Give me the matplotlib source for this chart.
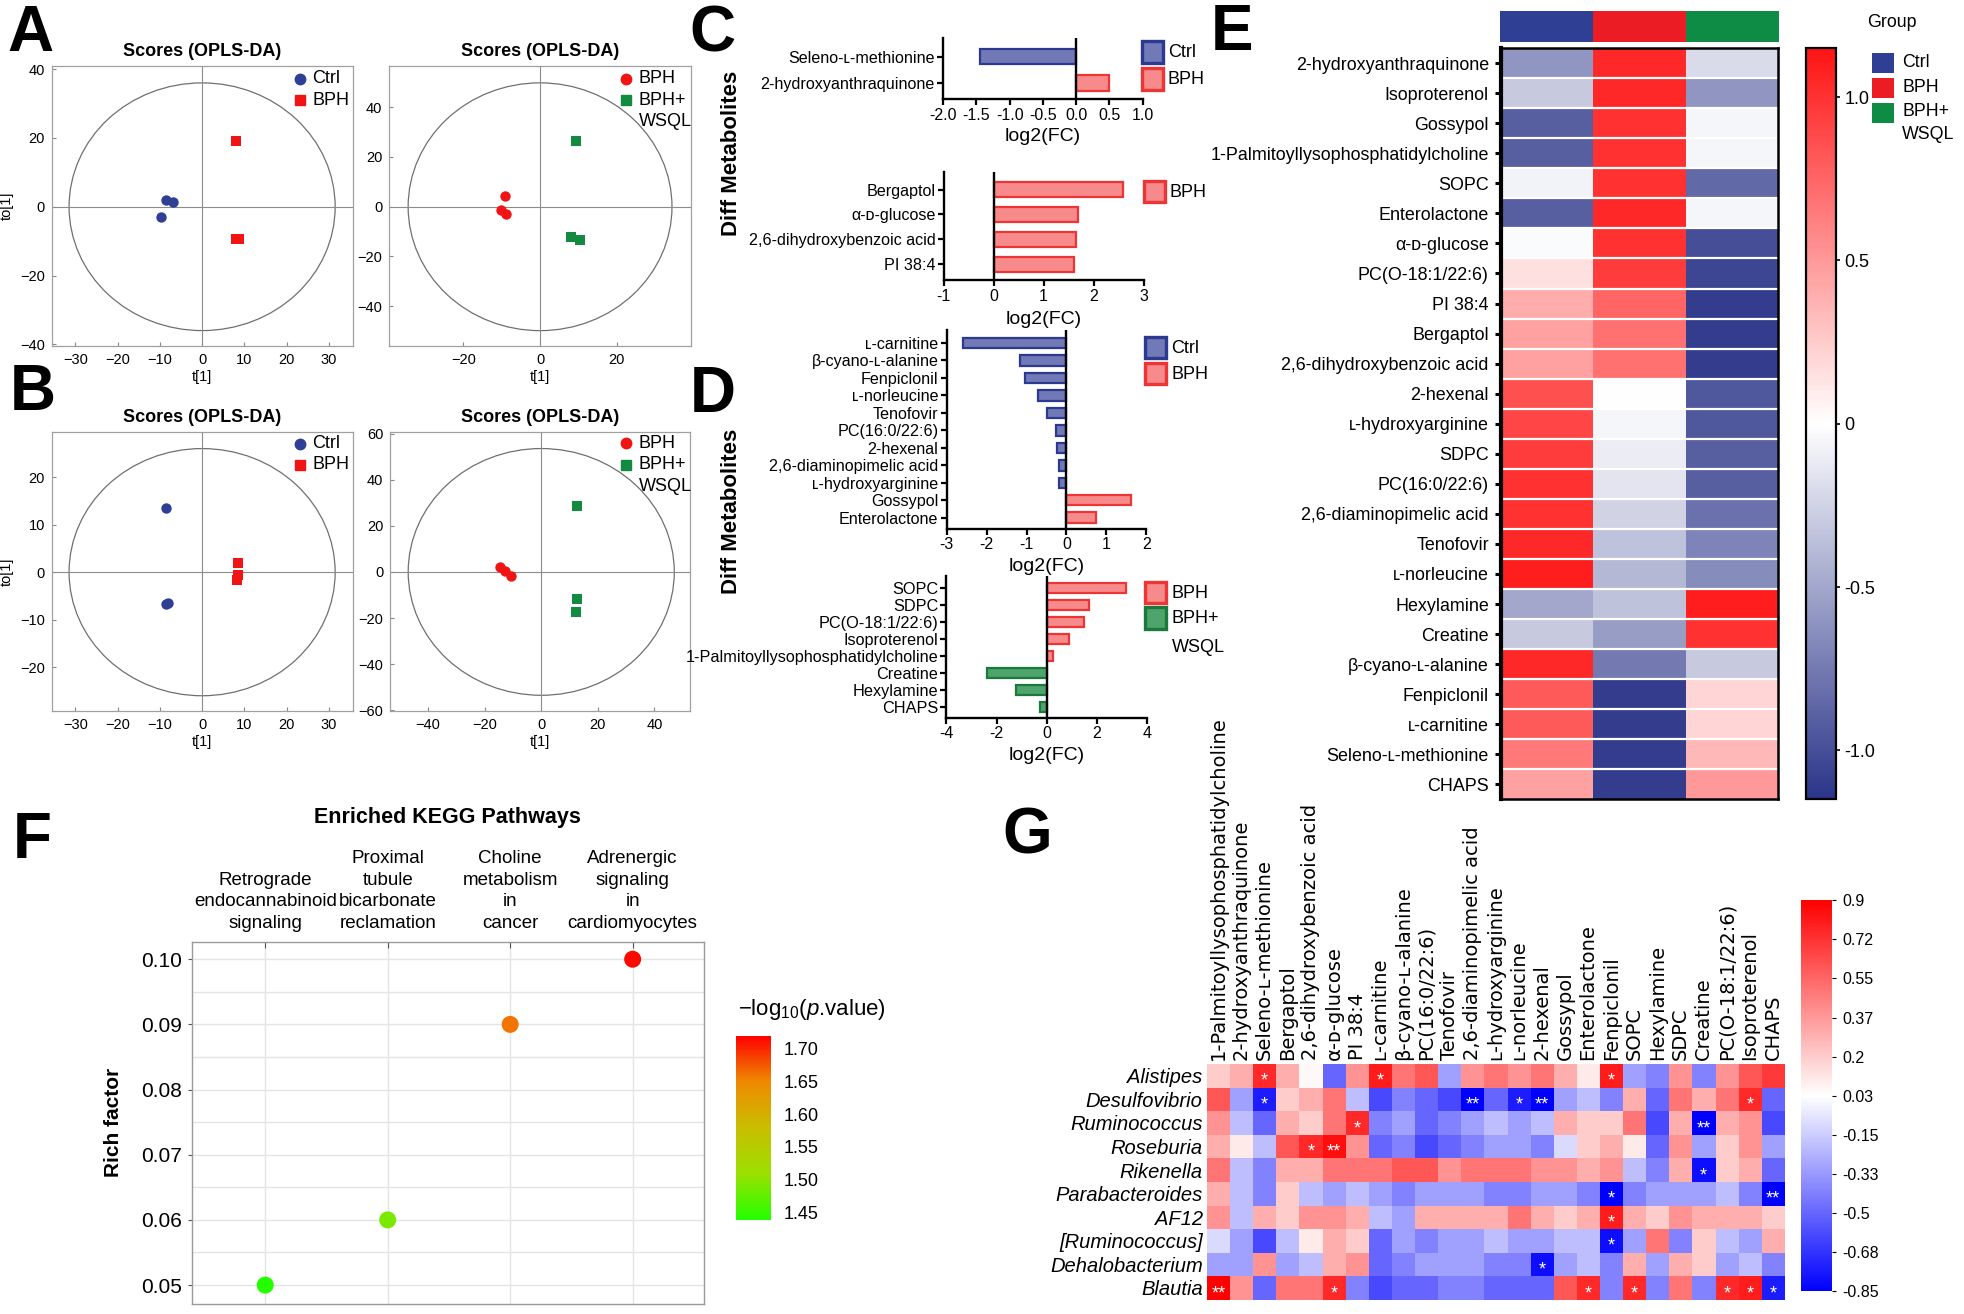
import numpy as np
import matplotlib
matplotlib.use('Agg')
import matplotlib.pyplot as plt
from matplotlib.patches import Ellipse, Rectangle
from matplotlib.lines import Line2D
from matplotlib.colors import LinearSegmentedColormap, ListedColormap

plt.rcParams['font.family'] = ['Liberation Sans', 'DejaVu Sans']
plt.rcParams['mathtext.fontset'] = 'custom'
plt.rcParams['mathtext.rm'] = 'Liberation Sans'
plt.rcParams['mathtext.it'] = 'Liberation Sans:italic'

# ---------------- data ----------------
# A / B : OPLS-DA score plots (t[1], to[1])
a1_ctrl_x = [-8.6, -7.0, -9.8]
a1_ctrl_y = [1.9, 1.4, -3.1]
a1_bph_x = [8.0, 8.0, 8.8]
a1_bph_y = [19.0, -9.4, -9.4]
a2_bph_x = [-9.2, -10.1, -8.9]
a2_bph_y = [4.3, -1.3, -2.9]
a2_wsql_x = [9.4, 8.1, 10.3]
a2_wsql_y = [26.4, -12.0, -13.4]
b1_ctrl_x = [-8.5, -8.5, -8.1]
b1_ctrl_y = [13.4, -6.6, -6.4]
b1_bph_x = [8.6, 8.4, 8.2]
b1_bph_y = [2.0, -0.5, -1.6]
b2_bph_x = [-14.4, -12.8, -10.7]
b2_bph_y = [2.2, 0.4, -1.9]
b2_wsql_x = [12.6, 12.6, 12.4]
b2_wsql_y = [28.6, -11.7, -17.2]

# C / D : log2 fold changes
c1_names = ['Seleno-ʟ-methionine', '2-hydroxyanthraquinone']
c1_vals = [-1.45, 0.5]
c2_names = ['Bergaptol', 'α-ᴅ-glucose', '2,6-dihydroxybenzoic acid', 'PI 38:4']
c2_vals = [2.59, 1.68, 1.64, 1.60]
d1_names = ['ʟ-carnitine', 'β-cyano-ʟ-alanine', 'Fenpiclonil', 'ʟ-norleucine',
            'Tenofovir', 'PC(16:0/22:6)', '2-hexenal', '2,6-diaminopimelic acid',
            'ʟ-hydroxyarginine', 'Gossypol', 'Enterolactone']
d1_vals = [-2.6, -1.17, -1.05, -0.71, -0.49, -0.26, -0.23, -0.18, -0.18, 1.62, 0.75]
d2_names = ['SOPC', 'SDPC', 'PC(O-18:1/22:6)', 'Isoproterenol',
            '1-Palmitoyllysophosphatidylcholine', 'Creatine', 'Hexylamine', 'CHAPS']
d2_vals = [3.16, 1.69, 1.47, 0.88, 0.26, -2.37, -1.22, -0.26]

# E : group-mean heatmap
e_names = ['2-hydroxyanthraquinone', 'Isoproterenol', 'Gossypol',
           '1-Palmitoyllysophosphatidylcholine', 'SOPC', 'Enterolactone',
           'α-ᴅ-glucose', 'PC(O-18:1/22:6)', 'PI 38:4', 'Bergaptol',
           '2,6-dihydroxybenzoic acid', '2-hexenal', 'ʟ-hydroxyarginine', 'SDPC',
           'PC(16:0/22:6)', '2,6-diaminopimelic acid', 'Tenofovir', 'ʟ-norleucine',
           'Hexylamine', 'Creatine', 'β-cyano-ʟ-alanine', 'Fenpiclonil',
           'ʟ-carnitine', 'Seleno-ʟ-methionine', 'CHAPS']
e_groups = ['Ctrl', 'BPH', 'BPH+', 'WSQL']
e_ctrl = [-0.6, -0.3, -0.9, -0.9, -0.07, -0.9, -0.02, 0.15, 0.4, 0.45, 0.45, 0.85,
          0.9, 0.95, 1.0, 1.0, 1.05, 1.1, -0.5, -0.3, 1.05, 0.8, 0.8, 0.65, 0.45]
e_bph = [1.05, 1.05, 1.0, 1.0, 1.0, 1.05, 1.0, 0.95, 0.75, 0.7, 0.7, 0.0, -0.05,
         -0.1, -0.15, -0.25, -0.35, -0.4, -0.35, -0.55, -0.75, -1.1, -1.1, -1.1, -1.1]
e_wsql = [-0.2, -0.6, -0.05, -0.05, -0.85, -0.05, -1.0, -1.05, -1.1, -1.1, -1.1,
          -0.95, -0.95, -0.9, -0.9, -0.8, -0.7, -0.65, 1.1, 1.0, -0.3, 0.2, 0.2, 0.35, 0.5]

# F : KEGG enrichment
f_paths = ['Retrograde\nendocannabinoid\nsignaling',
           'Proximal\ntubule\nbicarbonate\nreclamation',
           'Choline\nmetabolism\nin\ncancer',
           'Adrenergic\nsignaling\nin\ncardiomyocytes']
f_rich = [0.05, 0.06, 0.09, 0.10]
f_logp = [1.44, 1.49, 1.66, 1.715]

# G : correlation genus x metabolite
g_genus = ['Alistipes', 'Desulfovibrio', 'Ruminococcus', 'Roseburia', 'Rikenella',
           'Parabacteroides', 'AF12', '[Ruminococcus]', 'Dehalobacterium', 'Blautia']
g_metab = ['1-Palmitoyllysophosphatidylcholine', '2-hydroxyanthraquinone',
           'Seleno-ʟ-methionine', 'Bergaptol', '2,6-dihydroxybenzoic acid',
           'α-ᴅ-glucose', 'PI 38:4', 'ʟ-carnitine', 'β-cyano-ʟ-alanine',
           'PC(16:0/22:6)', 'Tenofovir', '2,6-diaminopimelic acid',
           'ʟ-hydroxyarginine', 'ʟ-norleucine', '2-hexenal', 'Gossypol',
           'Enterolactone', 'Fenpiclonil', 'SOPC', 'Hexylamine', 'SDPC', 'Creatine',
           'PC(O-18:1/22:6)', 'Isoproterenol', 'CHAPS']
g_r = [
    [0.2, 0.3, 0.75, 0.3, 0.05, -0.5, 0.4, 0.8, 0.5, 0.6, -0.3, 0.4, 0.5, 0.4, 0.5, 0.3, 0.1, 0.8, -0.3, -0.4, 0.4, -0.4, 0.4, 0.6, 0.7],
    [0.6, -0.3, -0.75, 0.2, 0.3, 0.5, -0.2, -0.6, -0.4, -0.5, -0.6, -0.85, -0.5, -0.75, -0.85, -0.3, -0.2, -0.4, 0.3, -0.5, 0.5, 0.3, 0.5, 0.75, -0.5],
    [0.4, -0.2, -0.5, 0.3, 0.2, 0.5, 0.75, -0.4, -0.3, -0.5, -0.4, -0.3, -0.2, -0.3, -0.2, 0.3, 0.2, 0.2, 0.5, -0.6, 0.3, -0.85, 0.3, 0.4, -0.6],
    [0.3, 0.1, -0.2, 0.6, 0.75, 0.85, 0.4, -0.5, -0.4, -0.6, -0.5, -0.4, -0.3, -0.3, -0.4, -0.1, 0.2, 0.3, 0.1, -0.5, 0.4, -0.3, 0.2, 0.4, -0.3],
    [0.5, -0.2, -0.4, 0.3, 0.3, 0.5, 0.5, 0.5, 0.6, 0.6, 0.4, 0.5, 0.5, 0.5, 0.4, 0.4, 0.3, 0.4, -0.2, -0.4, 0.3, -0.8, 0.2, 0.3, -0.5],
    [0.3, -0.2, -0.4, 0.2, -0.2, -0.3, -0.2, -0.3, -0.4, -0.3, -0.3, -0.3, -0.4, -0.4, -0.3, -0.3, -0.4, -0.85, -0.4, -0.3, -0.3, -0.3, -0.2, -0.4, -0.85],
    [0.4, -0.2, 0.3, 0.2, 0.4, 0.4, 0.3, -0.2, -0.3, 0.3, 0.3, 0.3, 0.3, 0.5, 0.3, 0.2, 0.3, 0.8, 0.3, 0.2, 0.4, 0.3, 0.3, 0.3, 0.2],
    [-0.1, -0.3, -0.6, -0.2, 0.1, 0.3, 0.2, -0.5, -0.3, -0.4, -0.3, -0.3, -0.2, -0.3, -0.3, -0.2, -0.2, -0.8, -0.3, 0.5, -0.4, 0.2, -0.2, -0.3, 0.3],
    [-0.3, -0.3, 0.4, -0.3, -0.2, 0.3, 0.4, -0.5, -0.4, -0.3, -0.3, -0.3, -0.4, -0.4, -0.8, -0.3, -0.2, -0.4, 0.3, -0.3, 0.3, 0.2, -0.3, -0.2, -0.4],
    [0.9, 0.4, -0.5, 0.5, 0.5, 0.75, -0.4, -0.6, -0.5, -0.5, -0.4, -0.4, -0.5, -0.5, -0.5, 0.6, 0.75, -0.4, 0.75, -0.4, 0.5, -0.4, 0.75, 0.8, -0.75],
]
# (row, column, mark)
g_sig = [(0, 2, '*'), (0, 7, '*'), (0, 17, '*'),
         (1, 2, '*'), (1, 11, '**'), (1, 13, '*'), (1, 14, '**'), (1, 23, '*'),
         (2, 6, '*'), (2, 21, '**'),
         (3, 4, '*'), (3, 5, '**'),
         (4, 21, '*'),
         (5, 17, '*'), (5, 24, '**'),
         (6, 17, '*'),
         (7, 17, '*'),
         (8, 14, '*'),
         (9, 0, '**'), (9, 5, '*'), (9, 16, '*'), (9, 18, '*'), (9, 22, '*'),
         (9, 23, '*'), (9, 24, '*')]
g_cticks = [0.9, 0.725, 0.55, 0.375, 0.2, 0.025, -0.15, -0.325, -0.5, -0.675, -0.85]
g_clabels = ['0.9', '0.72', '0.55', '0.37', '0.2', '0.03', '-0.15', '-0.33', '-0.5', '-0.68', '-0.85']

# colours
BLUE = '#2E3F94'
RED = '#F01414'
GREEN = '#128A40'
group_cols = [BLUE, '#EC1C24', '#0E8C45']
bar_face = {'Ctrl': '#7179B6', 'BPH': '#F78A8A', 'WSQL': '#4FA36C'}
bar_edge = {'Ctrl': '#2B3990', 'BPH': '#EE3535', 'WSQL': '#1B7A3B'}

# ---------------- layout helpers (reference pixel grid 1568 x 1048) ----------------
W, H = 1568.0, 1048.0
fig = plt.figure(figsize=(19.65, 13.14), dpi=100)


def rect(x0, y0, x1, y1):
    return [x0 / W, 1 - y1 / H, (x1 - x0) / W, (y1 - y0) / H]


def fx(x):
    return x / W


def fy(y):
    return 1 - y / H


def letter(x, y, s):
    fig.text(fx(x), fy(y), s, fontsize=46, fontweight='bold', va='baseline', ha='left')


def scores_panel(box, groups, xlim, ylim, radii, xticks, yticks, ylabel):
    ax = fig.add_axes(box)
    ax.add_patch(Ellipse((0, 0), 2 * radii[0], 2 * radii[1], fill=False,
                         ec='#707070', lw=0.9))
    ax.axhline(0, color='#8c8c8c', lw=0.8)
    ax.axvline(0, color='#8c8c8c', lw=0.8)
    for xs, ys, marker, color in groups:
        ax.scatter(xs, ys, marker=marker, s=56, color=color, zorder=3, linewidths=0)
    ax.set_xlim(xlim)
    ax.set_ylim(ylim)
    ax.set_xticks(xticks)
    ax.set_yticks(yticks)
    ax.tick_params(labelsize=10.5, length=3, direction='in', color='#888888', pad=5)
    for s in ax.spines.values():
        s.set_color('#a0a0a0')
        s.set_linewidth(0.9)
    ax.set_title('Scores (OPLS-DA)', fontsize=13, fontweight='bold', pad=7)
    ax.set_xlabel('t[1]', fontsize=10.5, labelpad=2)
    if ylabel:
        ax.set_ylabel('to[1]', fontsize=10.5)
        ax.yaxis.set_label_coords(-0.125, 0.5)
    return ax


def marker_key(x, y, marker, color, label):
    fig.add_artist(Line2D([fx(x)], [fy(y)], marker=marker, color=color,
                          markersize=7.5, linestyle='none', transform=fig.transFigure))
    fig.text(fx(x + 10), fy(y), label, va='center', ha='left', fontsize=13)


def bar_panel(box, names, vals, keys, xlim, xticks, xlabels, ylim, fs=11.6,
              family=None, labelpad=4):
    ax = fig.add_axes(box)
    y = np.arange(len(names))
    ax.barh(y, vals, height=0.6, color=[bar_face[k] for k in keys],
            edgecolor=[bar_edge[k] for k in keys], linewidth=1.6, zorder=2)
    ax.axvline(0, color='black', lw=1.7, zorder=3)
    ax.set_xlim(xlim)
    ax.set_ylim(ylim)
    ax.set_yticks(y)
    ax.set_yticklabels(names, fontsize=fs)
    if family:
        for t in ax.get_yticklabels():
            t.set_family(family)
    ax.set_xticks(xticks)
    ax.set_xticklabels(xlabels, fontsize=11.5)
    for side in ['top', 'right']:
        ax.spines[side].set_visible(False)
    for side in ['left', 'bottom']:
        ax.spines[side].set_linewidth(1.7)
    ax.tick_params(length=4, width=1.6, pad=2)
    ax.set_xlabel('log2(FC)', fontsize=14, labelpad=labelpad)
    return ax


def legend_box(x, y, key, label):
    fig.add_artist(Rectangle((fx(x), fy(y + 17)), 17 / W, 17 / H,
                             transform=fig.transFigure, facecolor=bar_face[key],
                             edgecolor=bar_edge[key], lw=2.4))
    fig.text(fx(x + 21), fy(y + 9), label, va='center', ha='left', fontsize=13)


# ---------------- A ----------------
letter(6, 41, 'A')
scores_panel(rect(41.3, 52.4, 281.6, 276),
             [(a1_ctrl_x, a1_ctrl_y, 'o', BLUE), (a1_bph_x, a1_bph_y, 's', RED)],
             (-35.6, 35.7), (-40.5, 41), (31.5, 36), [-30, -20, -10, 0, 10, 20, 30],
             [-40, -20, 0, 20, 40], True)
marker_key(239, 63, 'o', BLUE, 'Ctrl')
marker_key(239, 80, 's', RED, 'BPH')
scores_panel(rect(310.7, 52.4, 551.2, 276),
             [(a2_bph_x, a2_bph_y, 'o', RED), (a2_wsql_x, a2_wsql_y, 's', GREEN)],
             (-39.3, 39.3), (-56, 56.7), (34.4, 49.8), [-20, 0, 20],
             [-40, -20, 0, 20, 40], False)
marker_key(499.5, 63, 'o', RED, 'BPH')
marker_key(499.5, 80, 's', GREEN, 'BPH+')
fig.text(fx(509.5), fy(97), 'WSQL', va='center', ha='left', fontsize=13)

# ---------------- B ----------------
letter(8, 327, 'B')
scores_panel(rect(41.3, 344.5, 281.6, 567.4),
             [(b1_ctrl_x, b1_ctrl_y, 'o', BLUE), (b1_bph_x, b1_bph_y, 's', RED)],
             (-35.6, 35.7), (-29.3, 29.5), (31.5, 26), [-30, -20, -10, 0, 10, 20, 30],
             [-20, -10, 0, 10, 20], True)
marker_key(239, 354, 'o', BLUE, 'Ctrl')
marker_key(239, 370.5, 's', RED, 'BPH')
scores_panel(rect(311.5, 344.5, 550.7, 567.4),
             [(b2_bph_x, b2_bph_y, 'o', RED), (b2_wsql_x, b2_wsql_y, 's', GREEN)],
             (-53.3, 52.6), (-60.5, 60.7), (47, 53.5), [-40, -20, 0, 20, 40],
             [-60, -40, -20, 0, 20, 40, 60], False)
marker_key(499.5, 353.5, 'o', RED, 'BPH')
marker_key(499.5, 370.5, 's', GREEN, 'BPH+')
fig.text(fx(509.5), fy(388), 'WSQL', va='center', ha='left', fontsize=13)

# ---------------- C ----------------
letter(550, 41, 'C')
fig.text(fx(584), fy(122), 'Diff Metabolites', rotation=90, fontsize=16,
         fontweight='bold', ha='center', va='center')
bar_panel(rect(752.6, 30.6, 911.7, 79.3), c1_names, c1_vals,
          ['Ctrl' if v < 0 else 'BPH' for v in c1_vals], (-2.0, 1.0),
          [-2.0, -1.5, -1.0, -0.5, 0.0, 0.5, 1.0],
          ['-2.0', '-1.5', '-1.0', '-0.5', '0.0', '0.5', '1.0'], (1.63, -0.69))
legend_box(911, 33, 'Ctrl', 'Ctrl')
legend_box(911, 54.5, 'BPH', 'BPH')

bar_panel(rect(753, 137, 912.6, 223.5), c2_names, c2_vals, ['BPH'] * len(c2_vals),
          (-1, 3), [-1, 0, 1, 2, 3], ['-1', '0', '1', '2', '3'], (3.65, -0.72),
          labelpad=5)
legend_box(912.6, 144.5, 'BPH', 'BPH')

# ---------------- D ----------------
letter(550, 328.5, 'D')
fig.text(fx(584), fy(408), 'Diff Metabolites', rotation=90, fontsize=16,
         fontweight='bold', ha='center', va='center')
bar_panel(rect(755.5, 262.8, 914.6, 421.7), d1_names, d1_vals,
          ['Ctrl' if v < 0 else 'BPH' for v in d1_vals], (-3, 2),
          [-3, -2, -1, 0, 1, 2], ['-3', '-2', '-1', '0', '1', '2'], (10.63, -0.77))
legend_box(913.5, 268.7, 'Ctrl', 'Ctrl')
legend_box(913.5, 289.4, 'BPH', 'BPH')

narrow = ['Liberation Sans Narrow', 'Liberation Sans', 'DejaVu Sans']
bar_panel(rect(755.2, 459, 915.2, 572.7), d2_names, d2_vals,
          ['WSQL' if v < 0 else 'BPH' for v in d2_vals], (-4, 4),
          [-4, -2, 0, 2, 4], ['-4', '-2', '0', '2', '4'], (7.64, -0.71), fs=11.7,
          family=narrow)
legend_box(913.8, 464, 'BPH', 'BPH')
legend_box(913.8, 484.5, 'WSQL', 'BPH+')
fig.text(fx(934.8), fy(516.5), 'WSQL', va='center', ha='left', fontsize=13)

# ---------------- E ----------------
letter(966, 40, 'E')
e_cmap = LinearSegmentedColormap.from_list('e', ['#2B3589', '#ffffff', '#FF1414'])
e_data = np.column_stack([e_ctrl, e_bph, e_wsql])
axe = fig.add_axes(rect(1198, 38.4, 1419, 637.5))
im_e = axe.imshow(e_data, cmap=e_cmap, vmin=-1.15, vmax=1.15, aspect='auto',
                  interpolation='nearest')
for i in range(1, len(e_names)):
    axe.axhline(i - 0.5, color='white', lw=1.6)
axe.set_xticks([])
axe.set_yticks(np.arange(len(e_names)))
axe.set_yticklabels(e_names, fontsize=12.9)
axe.tick_params(axis='y', length=4, width=2.2, pad=5)
for s in axe.spines.values():
    s.set_linewidth(1.8)
axe.spines['left'].set_linewidth(3)

axg = fig.add_axes(rect(1197, 9.1, 1419, 33.6))
axg.imshow([[0, 1, 2]], cmap=ListedColormap(group_cols), aspect='auto', vmin=0, vmax=2)
axg.set_axis_off()

cax_e = fig.add_axes(rect(1441, 38.4, 1465, 637.5))
cb_e = fig.colorbar(im_e, cax=cax_e, ticks=[1.0, 0.5, 0, -0.5, -1.0])
cb_e.ax.set_yticklabels(['1.0', '0.5', '0', '-0.5', '-1.0'], fontsize=13)
cb_e.ax.tick_params(length=3, width=1.2, pad=3)
cb_e.outline.set_linewidth(1.6)

fig.text(fx(1510), fy(18), 'Group', fontsize=12.8, ha='center', va='center')
for k, col in enumerate(group_cols):
    yy = 42 + 20 * k
    fig.add_artist(Rectangle((fx(1494), fy(yy + 16)), 17 / W, 16 / H,
                             transform=fig.transFigure, facecolor=col, edgecolor='none'))
for lab, yy in zip(e_groups, [50, 70, 89, 107]):
    fig.text(fx(1518), fy(yy), lab, fontsize=12.8, va='center', ha='left')

# ---------------- F ----------------
letter(10, 684, 'F')
fig.text(fx(357), fy(652), 'Enriched KEGG Pathways', fontsize=15.5, fontweight='bold',
         ha='center', va='center')
f_cmap = LinearSegmentedColormap.from_list(
    'f', ['#22FF00', '#9BE000', '#C9BE00', '#EE8A00', '#FF0000'])
axf = fig.add_axes(rect(153, 751, 562, 1040))
xs = np.arange(len(f_paths))
axf.scatter(xs, f_rich, c=f_logp, cmap=f_cmap, vmin=1.438, vmax=1.72, s=150,
            zorder=3, linewidths=0)
axf.set_xlim(-0.6, 3.585)
axf.set_ylim(0.0471, 0.1027)
axf.xaxis.tick_top()
axf.set_xticks(xs)
axf.set_xticklabels(f_paths, fontsize=13.5, linespacing=1.36)
axf.set_yticks([0.05, 0.06, 0.07, 0.08, 0.09, 0.10])
axf.set_yticklabels(['0.05', '0.06', '0.07', '0.08', '0.09', '0.10'], fontsize=15)
axf.set_yticks([0.055, 0.065, 0.075, 0.085, 0.095], minor=True)
axf.tick_params(axis='x', length=4, direction='in', color='#555555', pad=7)
axf.tick_params(axis='y', which='major', length=3, color='#555555', pad=4)
axf.tick_params(axis='y', which='minor', length=0)
axf.grid(True, which='both', color='#E4E4E4', lw=1.0, zorder=0)
axf.set_axisbelow(True)
for s in axf.spines.values():
    s.set_color('#9a9a9a')
    s.set_linewidth(1.0)
axf.set_ylabel('Rich factor', fontsize=15, fontweight='bold', labelpad=13)

cax_f = fig.add_axes(rect(587, 826, 615, 973))
sm = plt.cm.ScalarMappable(cmap=f_cmap, norm=plt.Normalize(1.438, 1.72))
cb_f = fig.colorbar(sm, cax=cax_f, ticks=[1.45, 1.50, 1.55, 1.60, 1.65, 1.70])
cb_f.ax.set_yticklabels(['1.45', '1.50', '1.55', '1.60', '1.65', '1.70'], fontsize=13)
cb_f.ax.tick_params(length=0, pad=9)
cb_f.outline.set_visible(False)
fig.text(fx(648), fy(805), r'$-$log$_{10}$($\mathit{p}$.value)', fontsize=16,
         ha='center', va='center')

# ---------------- G ----------------
letter(800, 681, 'G')
g_cmap = LinearSegmentedColormap.from_list('g', ['#0000FF', '#ffffff', '#FF0000'])
axh = fig.add_axes(rect(963, 848.6, 1424, 1036.6))
im_g = axh.imshow(np.array(g_r), cmap=g_cmap, vmin=-0.85, vmax=0.9, aspect='auto',
                  interpolation='nearest')
for r, c, mark in g_sig:
    axh.text(c, r + 0.24, mark, ha='center', va='center', color='white', fontsize=13)
axh.xaxis.tick_top()
axh.set_xticks(np.arange(len(g_metab)))
axh.set_xticklabels(g_metab, rotation=90, fontsize=14, family=['DejaVu Sans'])
axh.set_yticks(np.arange(len(g_genus)))
axh.set_yticklabels(g_genus, fontsize=14.5, style='italic')
axh.tick_params(length=0, pad=3)
for s in axh.spines.values():
    s.set_visible(False)

cax_g = fig.add_axes(rect(1437, 718, 1462, 1030))
cb_g = fig.colorbar(im_g, cax=cax_g, ticks=g_cticks)
cb_g.ax.set_yticklabels(g_clabels, fontsize=11.5)
cb_g.ax.tick_params(length=3, width=0.8, pad=4)
cb_g.outline.set_visible(False)

fig.savefig('out.png', dpi=100)
